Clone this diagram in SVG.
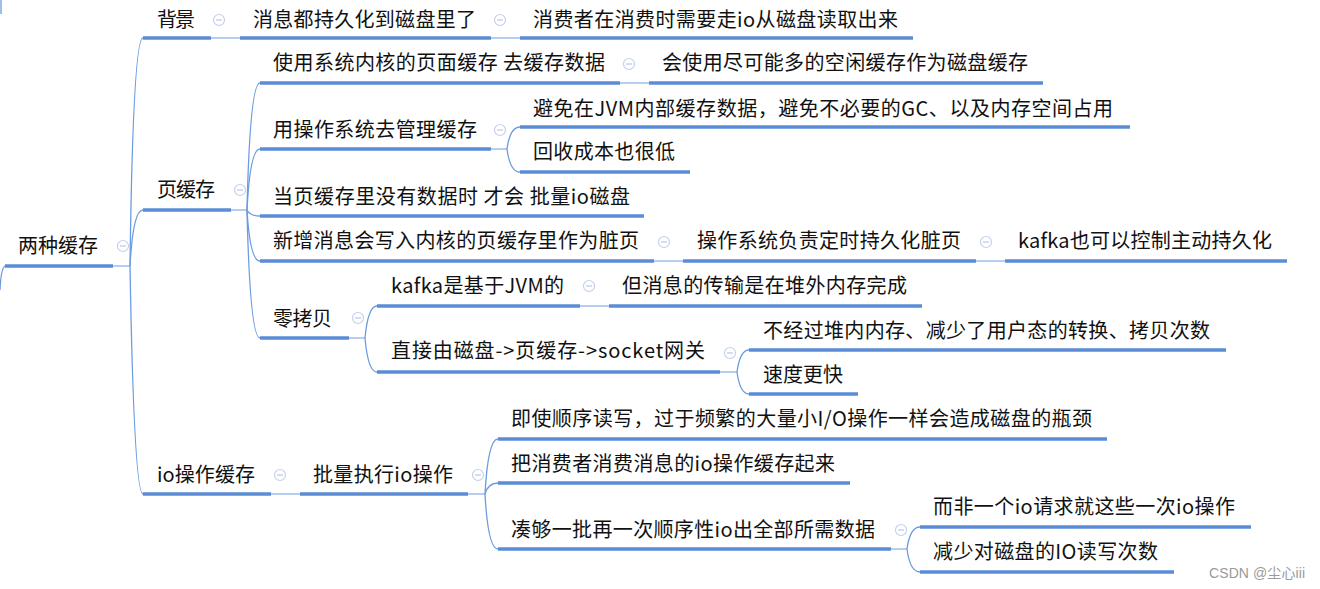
<svg xmlns="http://www.w3.org/2000/svg" width="1320" height="589" viewBox="0 0 1320 589">
<style>
text{font-family:"Microsoft YaHei","Noto Sans CJK SC","Noto Sans",sans-serif;font-size:20px;fill:#111}
.u{stroke:#5a8dd6;stroke-width:3.5;fill:none}
.c{stroke:#6b9be0;stroke-width:1.3;fill:none}
.t{stroke:#8fb2e6;stroke-width:1.3;fill:none}
.b circle{fill:#fff;stroke:#c3d1ec;stroke-width:1.2}
.b line{stroke:#b9c8e6;stroke-width:1.2}
.wm{font-family:"Liberation Sans","Noto Sans CJK SC",sans-serif;font-size:14px;fill:#9a9a9a}
</style>
<defs>
<g id="btn" class="b"><circle cx="0" cy="0" r="5.5"/><line x1="-3" y1="0" x2="3" y2="0"/></g>
</defs>
<rect width="1320" height="589" fill="#fff"/>
<g id="connectors">
<path class="c" d="M1,0 L1,14"/>
<path class="c" d="M5,266 Q1,268 0,290"/>
<path class="t" d="M113,266 L130,266"/>
<path class="c" d="M130,266 Q133,38 143,38"/>
<path class="c" d="M130,266 Q133,210 143,210"/>
<path class="c" d="M130,266 Q134,494 143,494"/>
<path class="t" d="M211,38 L240,38"/>
<path class="t" d="M491,38 L520,38"/>
<path class="t" d="M231,210 L247,210"/>
<path class="c" d="M247,210 Q250,83 260,83"/>
<path class="c" d="M247,210 Q250,149 260,149"/>
<path class="c" d="M247,210 Q250,216 260,216"/>
<path class="c" d="M247,210 Q250,261 260,261"/>
<path class="c" d="M247,210 Q250,338 260,338"/>
<path class="t" d="M620,83 L649,83"/>
<path class="t" d="M491,149 L507,149"/>
<path class="c" d="M507,149 Q510,127 520,127"/>
<path class="c" d="M507,149 Q510,172 520,172"/>
<path class="t" d="M654,261 L683,261"/>
<path class="t" d="M976,261 L1005,261"/>
<path class="t" d="M349,338 L365,338"/>
<path class="c" d="M365,338 Q368,306 377,306"/>
<path class="c" d="M365,338 Q368,372 377,372"/>
<path class="t" d="M580,306 L609,306"/>
<path class="t" d="M720,372 L737,372"/>
<path class="c" d="M737,372 Q740,350 749,350"/>
<path class="c" d="M737,372 Q740,394 749,394"/>
<path class="t" d="M271,494 L300,494"/>
<path class="t" d="M468,494 L485,494"/>
<path class="c" d="M485,494 Q488,439 498,439"/>
<path class="c" d="M485,494 Q488,483 498,483"/>
<path class="c" d="M485,494 Q488,549 498,549"/>
<path class="t" d="M891,549 L907,549"/>
<path class="c" d="M907,549 Q910,527 920,527"/>
<path class="c" d="M907,549 Q910,572 920,572"/>
</g>
<g id="root"><text x="18" y="253" textLength="80" lengthAdjust="spacing">两种缓存</text><path class="u" d="M5,266 H113"/><use href="#btn" x="123" y="246"/></g>
<g id="n-beijing"><text x="157" y="27" textLength="38" lengthAdjust="spacing">背景</text><path class="u" d="M143,38 H211"/><use href="#btn" x="219" y="20"/></g>
<g id="n-xiaoxi"><text x="253" y="27" textLength="223" lengthAdjust="spacing">消息都持久化到磁盘里了</text><path class="u" d="M240,38 H491"/><use href="#btn" x="500" y="20"/></g>
<g id="n-xiaofei"><text x="533" y="27" textLength="365" lengthAdjust="spacing">消费者在消费时需要走io从磁盘读取出来</text><path class="u" d="M520,38 H913"/></g>
<g id="n-yehuancun"><text x="157" y="197" textLength="58" lengthAdjust="spacing">页缓存</text><path class="u" d="M143,210 H231"/><use href="#btn" x="240" y="190"/></g>
<g id="n-shiyong"><text x="273" y="70" textLength="332" lengthAdjust="spacing">使用系统内核的页面缓存 去缓存数据</text><path class="u" d="M260,83 H620"/><use href="#btn" x="629" y="64"/></g>
<g id="n-huishiyong"><text x="662" y="70" textLength="366" lengthAdjust="spacing">会使用尽可能多的空闲缓存作为磁盘缓存</text><path class="u" d="M649,83 H1043"/></g>
<g id="n-caozuo"><text x="273" y="137" textLength="204" lengthAdjust="spacing">用操作系统去管理缓存</text><path class="u" d="M260,149 H491"/><use href="#btn" x="500" y="130"/></g>
<g id="n-bimian"><text x="533" y="116" textLength="580" lengthAdjust="spacing">避免在JVM内部缓存数据，避免不必要的GC、以及内存空间占用</text><path class="u" d="M520,127 H1130"/></g>
<g id="n-huishou"><text x="533" y="159" textLength="142" lengthAdjust="spacing">回收成本也很低</text><path class="u" d="M520,172 H690"/></g>
<g id="n-dang"><text x="273" y="204" textLength="357" lengthAdjust="spacing">当页缓存里没有数据时 才会 批量io磁盘</text><path class="u" d="M260,216 H644"/></g>
<g id="n-xinzeng"><text x="273" y="248" textLength="366" lengthAdjust="spacing">新增消息会写入内核的页缓存里作为脏页</text><path class="u" d="M260,261 H654"/><use href="#btn" x="664" y="242"/></g>
<g id="n-fuze"><text x="697" y="248" textLength="264" lengthAdjust="spacing">操作系统负责定时持久化脏页</text><path class="u" d="M683,261 H976"/><use href="#btn" x="986" y="242"/></g>
<g id="n-kafkazd"><text x="1018" y="248" textLength="254" lengthAdjust="spacing">kafka也可以控制主动持久化</text><path class="u" d="M1005,261 H1287"/></g>
<g id="n-lingkaobei"><text x="273" y="326" textLength="59" lengthAdjust="spacing">零拷贝</text><path class="u" d="M260,338 H349"/><use href="#btn" x="358" y="318"/></g>
<g id="n-kafkajvm"><text x="391" y="293" textLength="173" lengthAdjust="spacing">kafka是基于JVM的</text><path class="u" d="M377,306 H580"/><use href="#btn" x="589" y="286"/></g>
<g id="n-danxiaoxi"><text x="622" y="293" textLength="285" lengthAdjust="spacing">但消息的传输是在堆外内存完成</text><path class="u" d="M609,306 H922"/></g>
<g id="n-zhijie"><text x="391" y="358" textLength="314" lengthAdjust="spacing">直接由磁盘-&gt;页缓存-&gt;socket网关</text><path class="u" d="M377,372 H720"/><use href="#btn" x="730" y="353"/></g>
<g id="n-bujingguo"><text x="763" y="338" textLength="447" lengthAdjust="spacing">不经过堆内内存、减少了用户态的转换、拷贝次数</text><path class="u" d="M749,350 H1226"/></g>
<g id="n-sudu"><text x="763" y="382" textLength="80" lengthAdjust="spacing">速度更快</text><path class="u" d="M749,394 H858"/></g>
<g id="n-iohuancun"><text x="157" y="482" textLength="98" lengthAdjust="spacing">io操作缓存</text><path class="u" d="M143,494 H271"/><use href="#btn" x="280" y="475"/></g>
<g id="n-piliang"><text x="313" y="482" textLength="140" lengthAdjust="spacing">批量执行io操作</text><path class="u" d="M300,494 H468"/><use href="#btn" x="478" y="475"/></g>
<g id="n-jishi"><text x="511" y="426" textLength="581" lengthAdjust="spacing">即使顺序读写，过于频繁的大量小I/O操作一样会造成磁盘的瓶颈</text><path class="u" d="M498,439 H1107"/></g>
<g id="n-ba"><text x="511" y="471" textLength="324" lengthAdjust="spacing">把消费者消费消息的io操作缓存起来</text><path class="u" d="M498,483 H850"/></g>
<g id="n-cougou"><text x="511" y="537" textLength="364" lengthAdjust="spacing">凑够一批再一次顺序性io出全部所需数据</text><path class="u" d="M498,549 H891"/><use href="#btn" x="901" y="530"/></g>
<g id="n-erfei"><text x="933" y="514" textLength="302" lengthAdjust="spacing">而非一个io请求就这些一次io操作</text><path class="u" d="M920,527 H1251"/></g>
<g id="n-jianshao"><text x="933" y="559" textLength="225" lengthAdjust="spacing">减少对磁盘的IO读写次数</text><path class="u" d="M920,572 H1174"/></g>
<text class="wm" x="1209" y="578" textLength="96" lengthAdjust="spacing">CSDN @尘心iii</text>
</svg>
